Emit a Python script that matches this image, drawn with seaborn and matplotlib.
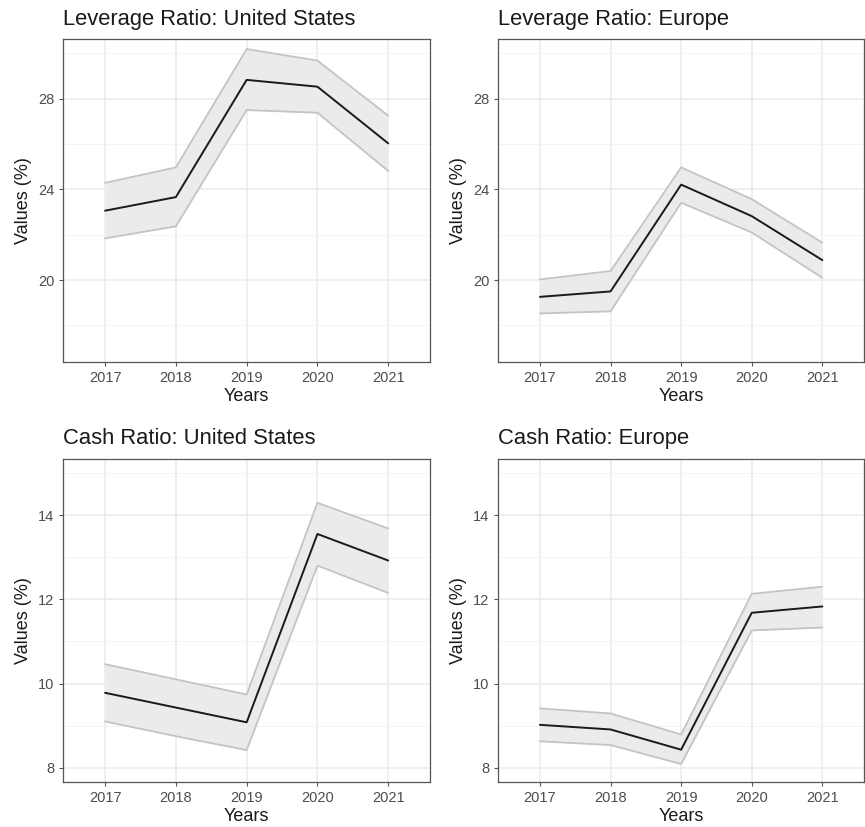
import matplotlib
matplotlib.use("Agg")
from matplotlib import pyplot as plt
from matplotlib.ticker import MultipleLocator
import seaborn as sns
import pandas as pd

# values
years = [2017, 2018, 2019, 2020, 2021]

lev_us = [23.06, 23.66, 28.83, 28.53, 26.03]
lev_us_lo = [21.84, 22.37, 27.50, 27.38, 24.81]
lev_us_hi = [24.29, 24.97, 30.19, 29.68, 27.25]

lev_eu = [19.26, 19.50, 24.21, 22.82, 20.88]
lev_eu_lo = [18.53, 18.62, 23.41, 22.10, 20.10]
lev_eu_hi = [20.03, 20.40, 24.97, 23.57, 21.65]

cash_us = [9.78, 9.43, 9.08, 13.55, 12.92]
cash_us_lo = [9.10, 8.75, 8.42, 12.80, 12.15]
cash_us_hi = [10.46, 10.10, 9.74, 14.29, 13.68]

cash_eu = [9.02, 8.91, 8.43, 11.68, 11.83]
cash_eu_lo = [8.63, 8.54, 8.09, 11.26, 11.33]
cash_eu_hi = [9.41, 9.29, 8.79, 12.13, 12.30]

titles = ["Leverage Ratio: United States", "Leverage Ratio: Europe",
          "Cash Ratio: United States", "Cash Ratio: Europe"]

sns.set_style("white")
plt.rcParams["font.family"] = ["Liberation Sans", "DejaVu Sans"]

W, H = 865, 827
fig = plt.figure(figsize=(W / 100, H / 100), dpi=100)


def _axes(left, top, right, bottom):
    # pixel box -> figure fraction
    return fig.add_axes([left / W, 1 - bottom / H, (right - left) / W, (bottom - top) / H])


def _panel(ax, title, mid, lo, hi, ylim, major, minor):
    df = pd.DataFrame({"Years": years, "mid": mid, "lo": lo, "hi": hi})
    ax.fill_between(df["Years"], df["lo"], df["hi"], color="#EBEBEE", lw=0, zorder=2)
    sns.lineplot(data=df, x="Years", y="lo", ax=ax, color="#C4C4C4", lw=1.3, zorder=3)
    sns.lineplot(data=df, x="Years", y="hi", ax=ax, color="#C4C4C4", lw=1.3, zorder=3)
    sns.lineplot(data=df, x="Years", y="mid", ax=ax, color="#1A1A1A", lw=1.4, zorder=4)

    ax.set_xlim(2016.41, 2021.59)
    ax.set_ylim(*ylim)
    ax.set_xticks(years)
    ax.yaxis.set_major_locator(MultipleLocator(major))
    ax.yaxis.set_minor_locator(MultipleLocator(minor))
    ax.grid(which="major", color="#EBEBEB", lw=1.1, zorder=0)
    ax.grid(which="minor", color="#F2F2F2", lw=0.6, zorder=0)
    ax.xaxis.grid(True, which="major", color="#EBEBEB", lw=1.1)
    ax.set_axisbelow(True)
    for s in ax.spines.values():
        s.set_color("#555555")
        s.set_linewidth(0.9)
    ax.tick_params(which="major", length=3, width=0.8, color="#555555",
                   labelsize=10.5, labelcolor="#4D4D4D", pad=3.5, left=True, bottom=True)
    ax.tick_params(which="minor", length=0)
    ax.set_title(title, loc="left", fontsize=15.8, color="#1A1A1A", pad=10.5)
    ax.set_xlabel("Years", fontsize=13, color="#1A1A1A")
    ax.set_ylabel("Values (%)", fontsize=13, color="#1A1A1A")
    ax.xaxis.set_label_coords(0.5, -0.082)
    ax.yaxis.set_label_coords(-0.085, 0.5)


ax1 = _axes(63.3, 39.3, 430, 361.7)
ax2 = _axes(498.3, 39.3, 864, 361.7)
ax3 = _axes(63.3, 459, 430, 781.7)
ax4 = _axes(498.3, 459, 864, 781.7)

lev_lim = (16.4, 30.62)
cash_lim = (7.67, 15.33)
_panel(ax1, titles[0], lev_us, lev_us_lo, lev_us_hi, lev_lim, 4, 2)
_panel(ax2, titles[1], lev_eu, lev_eu_lo, lev_eu_hi, lev_lim, 4, 2)
_panel(ax3, titles[2], cash_us, cash_us_lo, cash_us_hi, cash_lim, 2, 1)
_panel(ax4, titles[3], cash_eu, cash_eu_lo, cash_eu_hi, cash_lim, 2, 1)

fig.savefig("out.png", dpi=100)
